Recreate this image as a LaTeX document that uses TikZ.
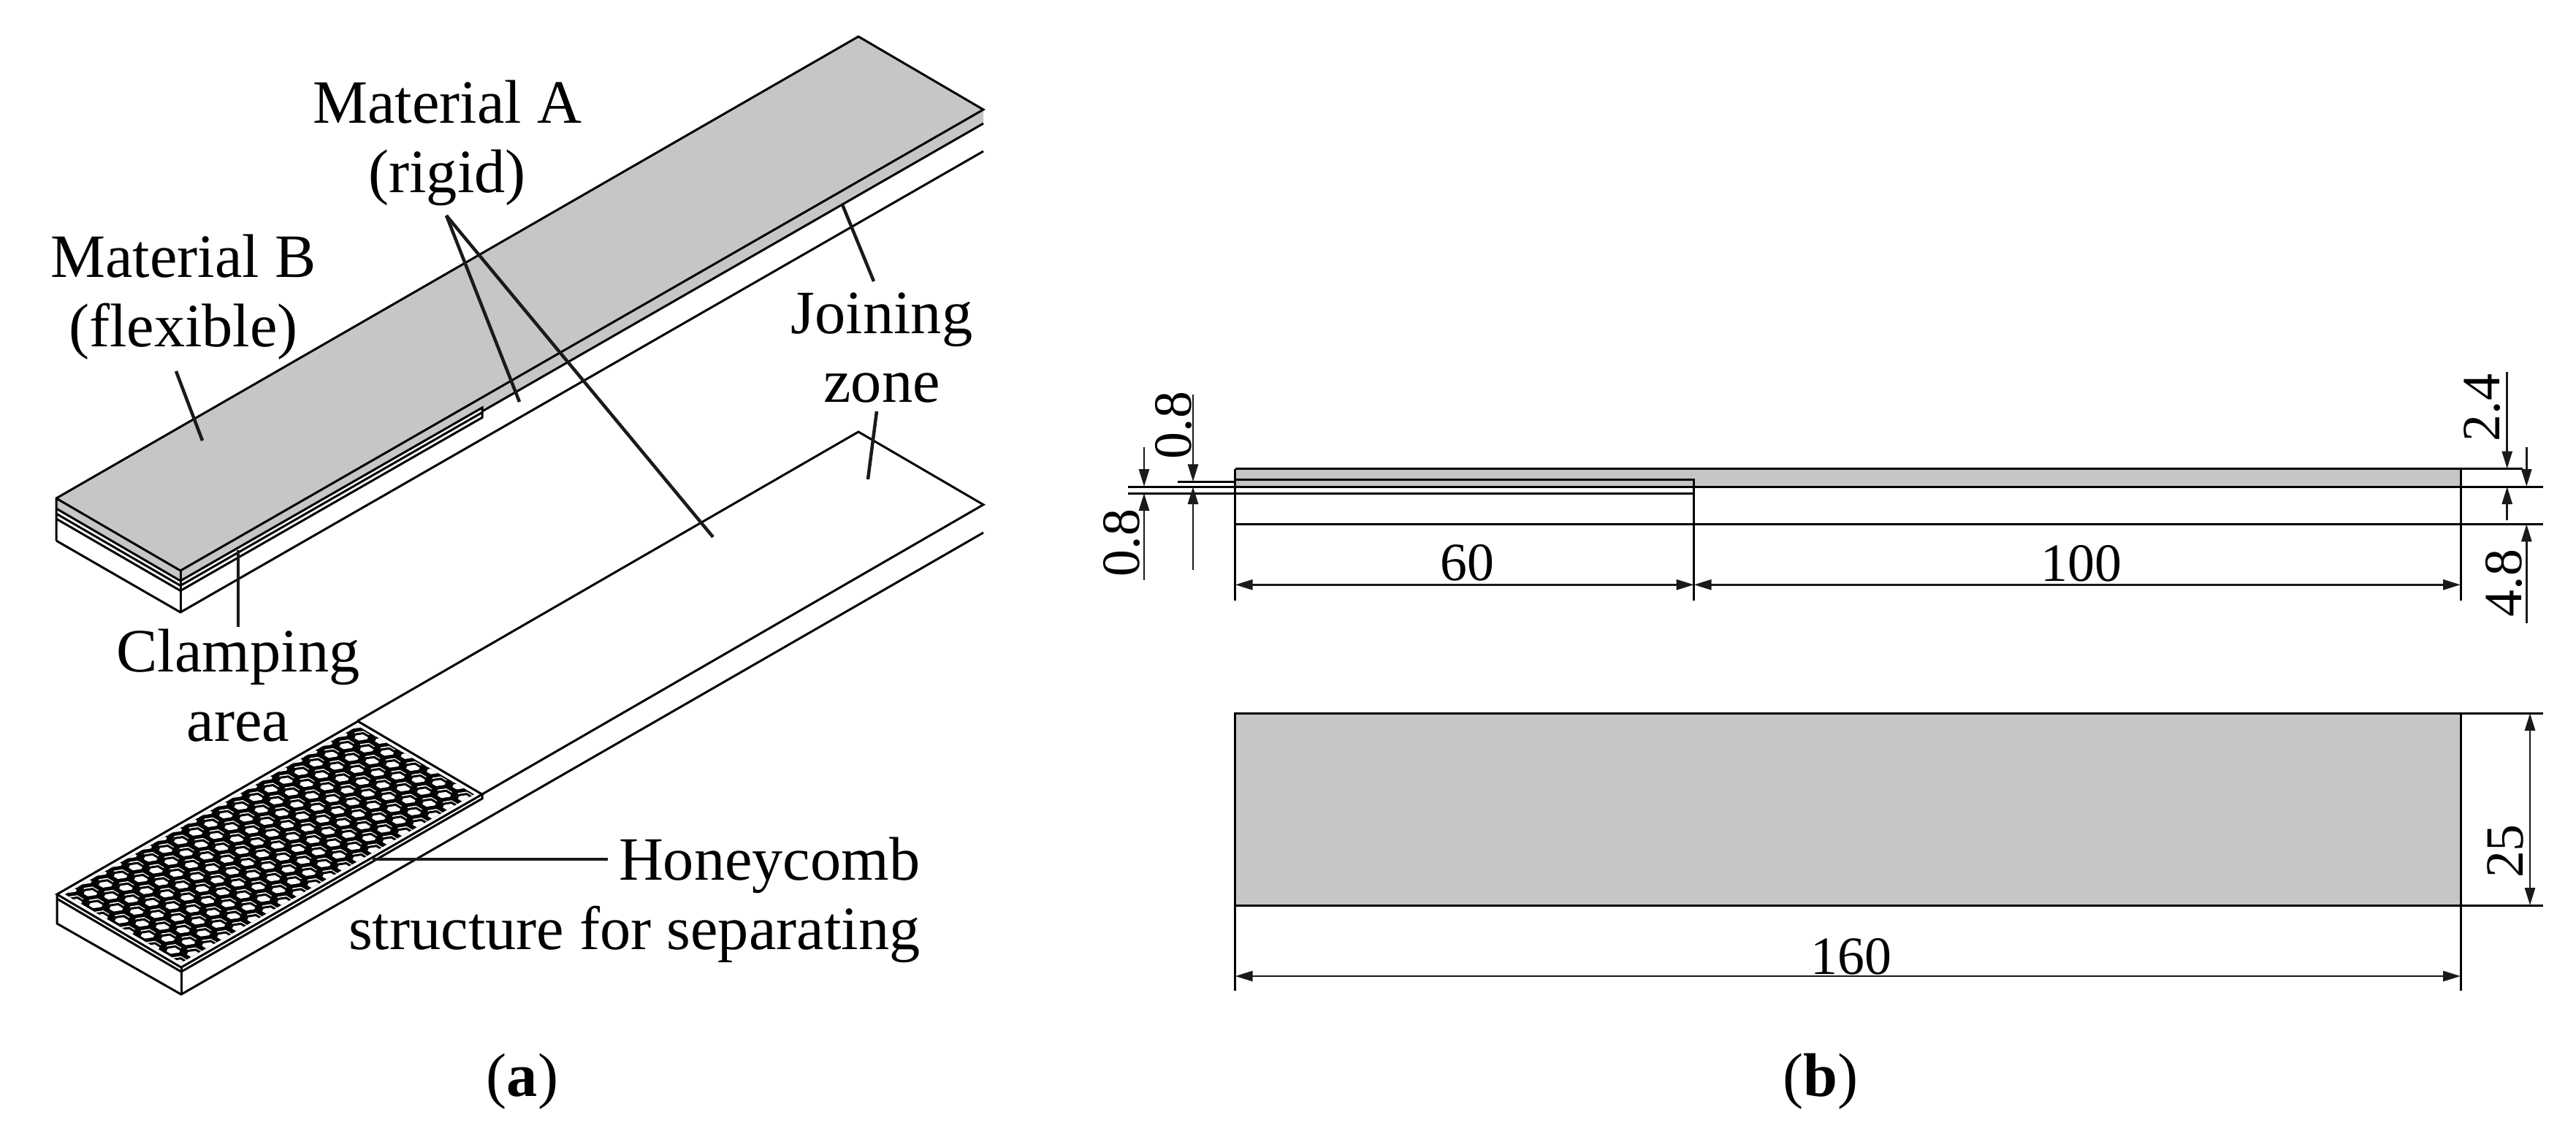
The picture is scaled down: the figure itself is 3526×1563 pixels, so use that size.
\documentclass[tikz,border=0pt]{standalone}
\usepackage{fontspec}
\setmainfont{Liberation Serif}
\usetikzlibrary{arrows.meta}
\definecolor{mygray}{RGB}{198,198,196}
\definecolor{myblack}{RGB}{26,26,24}
\tikzset{
  outline/.style={line width=0.3mm, black, line join=miter},
  leader/.style={line width=0.45mm, myblack},
  dimhead/.style={line width=0.28mm, myblack, -{Triangle[length=2.4mm,width=1.4mm]}},
  dimline/.style={line width=0.28mm, myblack, {Triangle[length=2.4mm,width=1.4mm]}-{Triangle[length=2.4mm,width=1.4mm]}},
  callout/.style={font=\fontsize{24}{27}\selectfont, inner sep=0pt, align=center},
  dimtext/.style={font=\fontsize{21}{21}\selectfont, inner sep=0pt},
  hexcell/.pic={
    \fill [white] (30:1.22) -- (90:1.22) -- (150:1.22) -- (210:1.22) -- (270:1.22) -- (330:1.22) -- cycle;
    \draw [line width=0.3mm, black] (0.657,1.01) -- (0.657,-0.21) -- (-0.4,-0.82) -- (-1.457,-0.21);
  }
}
\begin{document}
\begin{tikzpicture}[x=0.1mm,y=-0.1mm]
\useasboundingbox (0,0) rectangle (3526,1563);

\fill [mygray] (77,682) -- (1175,50) -- (1346,150) -- (1346,169) -- (660,563) -- (660,558) -- (247,795) -- (77,696) -- cycle;
\draw [outline] (77,740) -- (77,682) -- (1175,50) -- (1346,150) -- (247,781) -- (77,682);
\draw [outline] (247,781) -- (247,838);
\draw [outline] (77,696) -- (247,795) -- (660,558) -- (660,571.5) -- (247,808.5) -- (77,710);
\draw [outline] (77,703) -- (247,801.5) -- (660,564.5);
\draw [outline] (660,563) -- (1346,169);
\draw [outline] (77,740) -- (247,838) -- (1346,207);

\draw [outline] (660,1087) -- (1346,690.7) -- (1175,591) -- (489,987);
\draw [outline] (78,1224) -- (78,1264) -- (248,1361) -- (1346,729);
\draw [outline] (248,1324) -- (248,1361);
\draw [outline] (78,1230) -- (248,1330) -- (660,1093) -- (660,1087);
\begin{scope}[shift={(78,1224)},x={(0.6866mm,0.3947mm)},y={(0.68mm,-0.4mm)}]
\draw [outline] (0,0) -- (60,0) -- (60,25) -- (0,25) -- cycle;
\clip (0.8,0.8) -- (59.2,0.8) -- (59.2,24.2) -- (0.8,24.2) -- cycle;
\fill [black] (0,0) -- (60,0) -- (60,25) -- (0,25) -- cycle;
\foreach \j in {0,...,9} {
  \foreach \i in {0,...,20} {
    \pgfmathsetmacro{\cu}{\i*3+0.84+mod(\j+1,2)*1.5}
    \pgfmathsetmacro{\cv}{\j*2.6+0.2}
    \pic at (\cu,\cv) {hexcell};
  }
}
\end{scope}

\node [callout] (lblA) at (612,196) {Material A\\(rigid)};
\node [callout] (lblB) at (251,407) {Material B\\(flexible)};
\node [callout] (lblJ) at (1207,476) {Joining\\zone};
\node [callout] (lblC) at (326,938) {Clamping\\area};
\node [callout, align=right, anchor=east] (lblH) at (1260,1232) {Honeycomb\\structure for separating};
\node [callout] (capa) at (715,1480) {(\textbf{a})};
\node [callout] (capb) at (2492,1480) {(\textbf{b})};

\coordinate (apexA) at (611,295);
\draw [leader] (apexA) -- (711,550);
\draw [leader] (apexA) -- (976,735);
\draw [leader] (241,508) -- (277,603);
\draw [leader] (1153,280) -- (1196,385);
\draw [leader] (1200,563) -- (1188,656);
\draw [leader] (326,753) -- (326,858);
\draw [leader] (510,1176) -- (832,1176);

\fill [mygray] (1690.7,641.5) rectangle (3368,666);
\draw [outline] (1690.7,641.5) -- (3452.7,641.5);
\draw [outline] (1612,659.3) -- (1690.7,659.3);
\draw [outline] (1690.7,656.7) -- (2318.7,656.7) -- (2318.7,822);
\draw [outline] (1544,666) -- (3480.7,666);
\draw [outline] (1544,675) -- (2318.7,675);
\draw [outline] (1690.7,717.3) -- (3480.7,717.3);
\draw [outline] (1690.7,641.5) -- (1690.7,822);
\draw [outline] (3368,641.5) -- (3368,822);

\draw [dimline] (1690.7,800.3) -- (2318.7,800.3);
\node [dimtext] (dim60) at (2008,770) {60};
\draw [dimline] (2318.7,800.3) -- (3368,800.3);
\node [dimtext] (dim100) at (2849,771) {100};

\coordinate (a1) at (1566,666);
\coordinate (a2) at (1566,675);
\draw [dimhead] (1566,612) -- (a1);
\draw [dimhead] (1566,794) -- (a2);
\node [dimtext, rotate=90] (dimL) at (1535,743) {0.8};
\coordinate (b1) at (1633,659.3);
\coordinate (b2) at (1633,666);
\draw [dimhead] (1633,540) -- (b1);
\draw [dimhead] (1633,780) -- (b2);
\node [dimtext, rotate=90] (dimM) at (1606,582) {0.8};
\coordinate (c1) at (3431.7,641.5);
\coordinate (c2) at (3431.7,666);
\draw [dimhead] (3431.7,509) -- (c1);
\draw [dimhead] (3431.7,712) -- (c2);
\node [dimtext, rotate=90] (dimR) at (3398,558) {2.4};
\coordinate (d1) at (3458.3,666);
\coordinate (d2) at (3458.3,717.3);
\draw [dimhead] (3458.3,612) -- (d1);
\draw [dimhead] (3458.3,853) -- (d2);
\node [dimtext, rotate=90] (dimS) at (3427,798) {4.8};

\draw [outline, fill=mygray] (1690.7,976) rectangle (3368,1239);
\draw [outline] (3368,976) -- (3481,976);
\draw [outline] (3368,1239) -- (3481,1239);
\draw [outline] (1690.7,1239) -- (1690.7,1356);
\draw [outline] (3368,1239) -- (3368,1356);
\draw [dimline] (3463,976) -- (3463,1239);
\node [dimtext, rotate=90] (dim25) at (3429,1165) {25};
\draw [dimline] (1690.7,1336) -- (3368,1336);
\node [dimtext] (dim160) at (2534,1309) {160};
\end{tikzpicture}
\end{document}
